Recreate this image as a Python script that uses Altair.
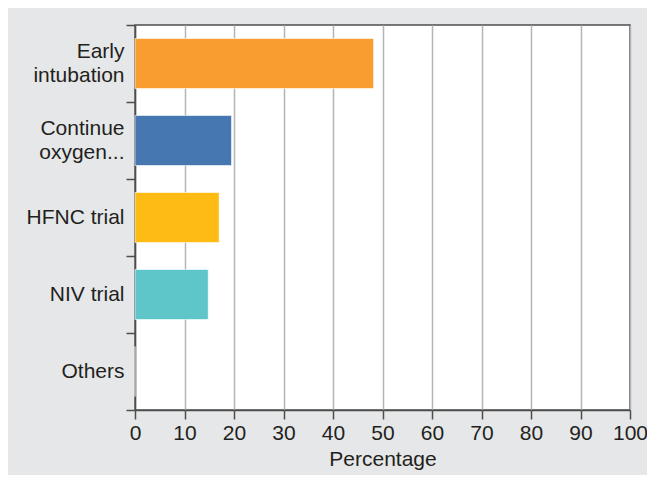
import altair as alt
import pandas as pd

categories = ["Early intubation", "Continue oxygen...", "HFNC trial", "NIV trial", "Others"]
percentages = [48.2, 19.5, 17.0, 14.8, 0.0]
colors = ["#F99D31", "#4677B0", "#FDBB14", "#5EC6C8", "#999999"]
x_ticks = list(range(0, 101, 10))

df = pd.DataFrame({"category": categories, "pct": percentages})

label_expr = ("datum.label == 'Early intubation' ? ['Early', 'intubation'] : "
              "datum.label == 'Continue oxygen...' ? ['Continue', 'oxygen...'] : datum.label")
two_line_test = "datum.value == 'Early intubation' || datum.value == 'Continue oxygen...'"

FONT = "Liberation Sans"
TEXT = "#231f20"
AXIS = "#4d4d4d"

chart = alt.Chart(df).mark_bar(
    height=alt.RelativeBandSize(0.65), stroke="white", strokeWidth=1, strokeOpacity=0.6
).encode(
    y=alt.Y("category:N", sort=categories,
            scale=alt.Scale(paddingInner=0, paddingOuter=0),
            axis=alt.Axis(title=None, tickBand="extent", labelExpr=label_expr,
                          labelOffset={"condition": {"test": two_line_test, "value": -12}, "value": 0},
                          domainColor=AXIS, domainWidth=1.5, tickColor=AXIS, tickWidth=1.5,
                          tickSize=9, labelFont=FONT, labelFontSize=21, labelColor=TEXT,
                          labelPadding=2, labelLineHeight=24, grid=False)),
    x=alt.X("pct:Q", scale=alt.Scale(domain=[0, 100], nice=False),
            axis=alt.Axis(values=x_ticks, title="Percentage", grid=True, gridColor="#b5b5b5",
                          gridWidth=1.5, domainColor=AXIS, domainWidth=1.5, tickColor=AXIS,
                          tickWidth=1.5, tickSize=9, labelFont=FONT, labelFontSize=21,
                          labelColor=TEXT, labelPadding=3, titleFont=FONT, titleFontSize=21,
                          titleFontWeight="normal", titleColor=TEXT, titlePadding=5,
                          labelFlush=False)),
    color=alt.Color("category:N", scale=alt.Scale(domain=categories, range=colors), legend=None),
).properties(
    width=495, height=385, background="#e6e7e8",
    padding={"left": 127, "top": 17, "right": 17, "bottom": 65},
    autosize=alt.AutoSizeParams(type="none"),
).configure_view(stroke=AXIS, strokeWidth=1.5, fill="white")

chart.save("out.html", embed_options={"renderer": "svg", "actions": False})
